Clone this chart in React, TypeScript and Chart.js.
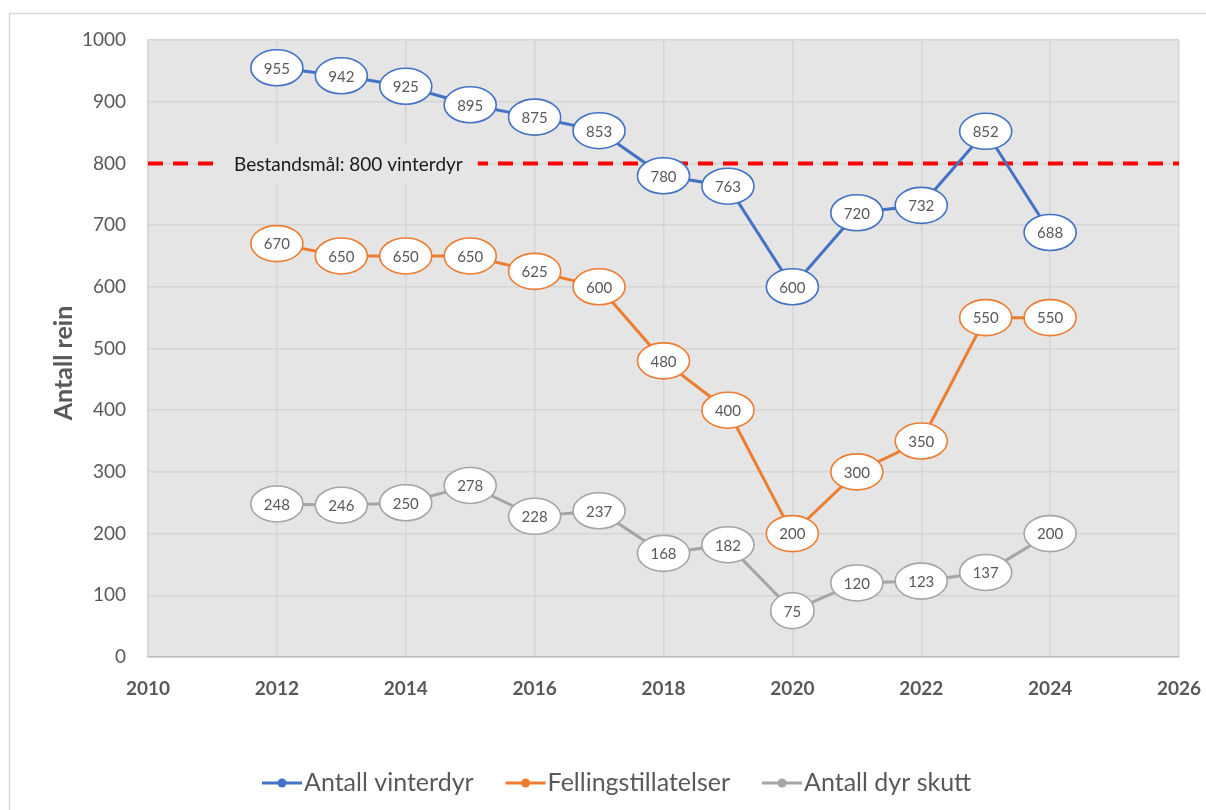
import React, { useEffect, useRef } from "react";
import { Chart, registerables } from "chart.js";

Chart.register(...registerables);

// ---- data ----
const YEARS = [2012, 2013, 2014, 2015, 2016, 2017, 2018, 2019, 2020, 2021, 2022, 2023, 2024];
const VINTERDYR = [955, 942, 925, 895, 875, 853, 780, 763, 600, 720, 732, 852, 688];
const FELLING = [670, 650, 650, 650, 625, 600, 480, 400, 200, 300, 350, 550, 550];
const SKUTT = [248, 246, 250, 278, 228, 237, 168, 182, 75, 120, 123, 137, 200];
const SERIES_NAMES = ["Antall vinterdyr", "Fellingstillatelser", "Antall dyr skutt"];
const SERIES_COLORS = ["#4472C4", "#ED7D31", "#A5A5A5"];
const TARGET = 800;
const TARGET_LABEL = "Bestandsmål: 800 vinterdyr";
const Y_TITLE = "Antall rein";
const X_MIN = 2010;
const X_MAX = 2026;
const X_STEP = 2;
const Y_MIN = 0;
const Y_MAX = 1000;
const Y_STEP = 100;

const FONT = 'Lato, "Noto Sans", sans-serif';
const TEXT_GRAY = "#595959";
const PLOT_BG = "#e5e5e5";
const GRID = "#d5d5d5";

const W = 1206;
const H = 810;

const chromePlugin = {
  id: "chrome",
  beforeDraw(chart: any) {
    const { ctx, chartArea } = chart;
    ctx.save();
    ctx.fillStyle = "#ffffff";
    ctx.fillRect(0, 0, W, H);
    // outer border
    ctx.strokeStyle = "#d9d9d9";
    ctx.lineWidth = 1.5;
    ctx.beginPath();
    ctx.moveTo(9.5, H + 2);
    ctx.lineTo(9.5, 13.5);
    ctx.lineTo(W + 2, 13.5);
    ctx.stroke();
    // plot background
    ctx.fillStyle = PLOT_BG;
    ctx.fillRect(chartArea.left, chartArea.top, chartArea.right - chartArea.left, chartArea.bottom - chartArea.top);
    ctx.restore();
  },
  beforeDatasetsDraw(chart: any) {
    const { ctx, chartArea, scales } = chart;
    const y = scales.y.getPixelForValue(TARGET);
    ctx.save();
    ctx.strokeStyle = "#FF0000";
    ctx.lineWidth = 4;
    ctx.setLineDash([15, 10]);
    ctx.beginPath();
    ctx.moveTo(chartArea.left, y);
    ctx.lineTo(chartArea.right, y);
    ctx.stroke();
    ctx.setLineDash([]);
    ctx.font = `19px ${FONT}`;
    const tw = ctx.measureText(TARGET_LABEL).width;
    const tx = chartArea.left + 86;
    ctx.fillStyle = PLOT_BG;
    ctx.fillRect(tx - 18, y - 19, tw + 33, 39);
    ctx.fillStyle = "#1a1a1a";
    ctx.textAlign = "left";
    ctx.textBaseline = "middle";
    ctx.fillText(TARGET_LABEL, tx, y + 1);
    ctx.restore();
  },
  afterDatasetsDraw(chart: any) {
    const { ctx } = chart;
    ctx.save();
    ctx.font = `15px ${FONT}`;
    ctx.textAlign = "center";
    ctx.textBaseline = "middle";
    chart.data.datasets.forEach((ds: any, di: number) => {
      const meta = chart.getDatasetMeta(di);
      meta.data.forEach((pt: any, i: number) => {
        const v = ds.data[i].y;
        const txt = String(v);
        const tw = ctx.measureText(txt).width;
        const rx = tw / 2 + 13;
        const ry = 18;
        ctx.beginPath();
        ctx.ellipse(pt.x, pt.y, rx, ry, 0, 0, Math.PI * 2);
        ctx.fillStyle = "#ffffff";
        ctx.fill();
        ctx.lineWidth = 1.6;
        ctx.strokeStyle = ds.borderColor;
        ctx.stroke();
        ctx.fillStyle = TEXT_GRAY;
        ctx.fillText(txt, pt.x, pt.y + 1);
      });
    });
    ctx.restore();
  },
  afterDraw(chart: any) {
    const { ctx } = chart;
    ctx.save();
    // y-axis title
    ctx.translate(64, 363);
    ctx.rotate(-Math.PI / 2);
    ctx.font = `bold 25px ${FONT}`;
    ctx.fillStyle = TEXT_GRAY;
    ctx.textAlign = "center";
    ctx.textBaseline = "middle";
    ctx.fillText(Y_TITLE, 0, 0);
    ctx.restore();

    ctx.save();
    ctx.font = `25px ${FONT}`;
    ctx.textBaseline = "middle";
    ctx.textAlign = "left";
    let x = 262;
    const y = 783;
    SERIES_NAMES.forEach((name, i) => {
      ctx.strokeStyle = SERIES_COLORS[i];
      ctx.lineWidth = 3;
      ctx.beginPath();
      ctx.moveTo(x, y);
      ctx.lineTo(x + 40, y);
      ctx.stroke();
      ctx.beginPath();
      ctx.arc(x + 20, y, 4.5, 0, Math.PI * 2);
      ctx.fillStyle = SERIES_COLORS[i];
      ctx.fill();
      ctx.fillStyle = TEXT_GRAY;
      ctx.fillText(name, x + 42, y);
      const tw = ctx.measureText(name).width;
      x = x + 42 + tw + 32;
    });
    ctx.restore();
  },
};

export default function App() {
  const ref = useRef<HTMLCanvasElement | null>(null);
  useEffect(() => {
    if (!ref.current) return;
    Chart.defaults.font.family = FONT;
    const seriesValues = [VINTERDYR, FELLING, SKUTT];
    const chart = new Chart(ref.current, {
      type: "line",
      data: {
        datasets: seriesValues.map((vals, i) => ({
          label: SERIES_NAMES[i],
          data: YEARS.map((yr, j) => ({ x: yr, y: vals[j] })),
          borderColor: SERIES_COLORS[i],
          backgroundColor: SERIES_COLORS[i],
          borderWidth: 3,
          pointRadius: 0,
          tension: 0,
        })),
      },
      options: {
        animation: false,
        responsive: false,
        layout: { padding: { left: 0, right: 27, top: 40, bottom: 93 } },
        plugins: { legend: { display: false }, tooltip: { enabled: false } },
        scales: {
          x: {
            type: "linear",
            min: X_MIN,
            max: X_MAX,
            afterFit: (s: any) => { s.height = 60; s.paddingRight = 0; s.paddingLeft = 0; },
            ticks: {
              stepSize: X_STEP,
              padding: 20,
              color: TEXT_GRAY,
              font: { size: 19, weight: "bold", family: FONT },
              callback: (v: any) => String(v),
            },
            grid: { color: GRID, lineWidth: 1.5, drawTicks: false },
            border: { display: true, color: "#bfbfbf", width: 1.5 },
          },
          y: {
            min: Y_MIN,
            max: Y_MAX,
            afterFit: (s: any) => { s.width = 148; s.paddingTop = 0; s.paddingBottom = 0; },
            ticks: {
              stepSize: Y_STEP,
              padding: 22,
              color: TEXT_GRAY,
              font: { size: 19, family: FONT },
              callback: (v: any) => String(v),
            },
            grid: { color: GRID, lineWidth: 1.5, drawTicks: false },
            border: { display: true, color: GRID, width: 1.5 },
            title: { display: false },
          },
        },
      },
      plugins: [chromePlugin],
    } as any);
    return () => chart.destroy();
  }, []);
  return (
    <div style={{ position: "fixed", left: 0, top: 0, width: W, height: H, background: "#fff" }}>
      <canvas ref={ref} width={W} height={H} style={{ width: W, height: H, display: "block" }} />
    </div>
  );
}
